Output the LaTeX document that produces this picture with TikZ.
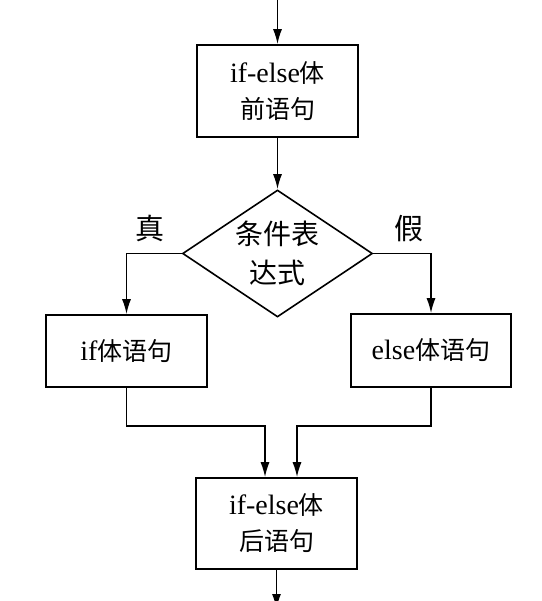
\documentclass[tikz,border=0pt]{standalone}
\usepackage{fontspec}
\setmainfont{Liberation Serif}
\newfontfamily\cjk{Noto Sans CJK SC}
\newcommand{\cjkbox}[1]{{\fontsize{25}{36}\selectfont\cjk #1}}
\usetikzlibrary{shapes.geometric,arrows.meta}
\begin{document}
\begin{tikzpicture}[x=1pt,y=-1pt,
  line width=1.6pt,
  arr/.style={-{Latex[length=15pt,width=9pt]}},
  boxnode/.style={draw,rectangle,align=center,font=\fontsize{28}{36}\selectfont,inner sep=0pt},
  condnode/.style={draw,diamond,align=center,font=\fontsize{28}{39}\selectfont\cjk,inner sep=0pt,minimum width=190pt,minimum height=127pt,shape aspect=1.5},
  lbl/.style={font=\fontsize{29}{30}\selectfont\cjk,inner sep=0pt}]
\useasboundingbox (0,0) rectangle (541,601);
\clip (0,0) rectangle (541,601);
\node[boxnode,minimum width=161pt,minimum height=92pt] (b1) at (277.5,91) {if-else\cjkbox{体}\\\cjkbox{前语句}};
\node[condnode] (cond) at (277.5,253.5) {条件表\\达式};
\node[boxnode,minimum width=161pt,minimum height=72pt] (ifb) at (126.5,351) {if\cjkbox{体语句}};
\node[boxnode,minimum width=160pt,minimum height=73pt] (elseb) at (431,350.5) {else\cjkbox{体语句}};
\node[boxnode,minimum width=161pt,minimum height=91pt] (after) at (276.5,523.5) {if-else\cjkbox{体}\\\cjkbox{后语句}};
\node[lbl] (t) at (150,228) {真};
\node[lbl] (f) at (409,229) {假};
\coordinate (top) at (277.5,-2);
\coordinate (m1) at (265,426);
\coordinate (m2) at (297,426);
\coordinate (bot) at (276.5,609);
\draw[arr] (top) -- (b1.north);
\draw[arr] (b1.south) -- (cond.north);
\draw[arr] (cond.west) -| (ifb.north);
\draw[arr] (cond.east) -| (elseb.north);
\draw[arr] (ifb.south) |- (m1) -- (m1 |- after.north);
\draw[arr] (elseb.south) |- (m2) -- (m2 |- after.north);
\draw[arr] (after.south) -- (bot);
\end{tikzpicture}
\end{document}
